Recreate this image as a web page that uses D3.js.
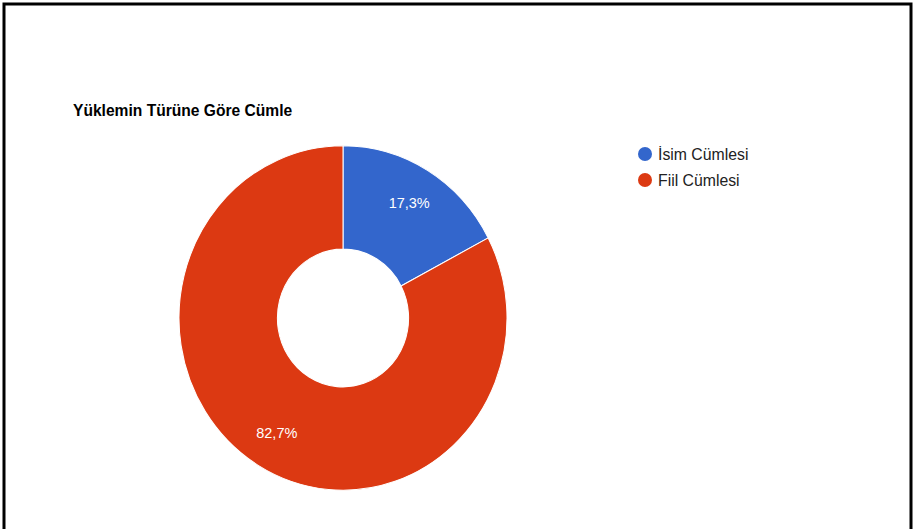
<!DOCTYPE html>
<html>
<head>
<meta charset="utf-8">
<script src="https://cdn.jsdelivr.net/npm/d3@7"></script>
<style>
	body { margin: 0; background: #fff; }
	svg { display: block; font-family: "Liberation Sans", Arial, sans-serif; }
</style>
</head>
<body>
<svg id="chart" width="916" height="529"></svg>
<script>
'use strict';

const TITLE = "Yüklemin Türüne Göre Cümle";
const categories = ["İsim Cümlesi", "Fiil Cümlesi"];
const values = [17.3, 82.7];
const labels = ["17,3%", "82,7%"];
const colors = ["#3366cc", "#dc3912"];

const svg = d3.select("#chart");

// frame
svg.append("path")
	.attr("d", "M4,529 V4 H911 V529")
	.attr("fill", "none")
	.attr("stroke", "#000")
	.attr("stroke-width", 3);

svg.append("text")
	.attr("x", 73)
	.attr("y", 116)
	.attr("font-size", 15.6)
	.attr("font-weight", "bold")
	.attr("fill", "#000")
	.text(TITLE);

const R = 164;
const cx = 343, cy = 318;

const pie = d3.pie().sort(null).value(d => d);
const arc = d3.arc().innerRadius(R * 0.4).outerRadius(R);
const labelArc = d3.arc().innerRadius(128).outerRadius(128);

const g = svg.append("g")
	.attr("transform", `translate(${cx},${cy}) scale(1,1.05)`);

const arcs = pie(values);

g.selectAll("path")
	.data(arcs)
	.enter().append("path")
		.attr("d", arc)
		.attr("fill", (d, i) => colors[i])
		.attr("stroke", "#fff")
		.attr("stroke-width", 1);

// labels drawn outside the scaled group so text isn't stretched
svg.selectAll("text.slice")
	.data(arcs)
	.enter().append("text")
		.attr("class", "slice")
		.attr("x", d => cx + labelArc.centroid(d)[0])
		.attr("y", d => cy + labelArc.centroid(d)[1] * 1.05 + 5)
		.attr("text-anchor", "middle")
		.attr("font-size", 14.5)
		.attr("fill", "#fff")
		.text((d, i) => labels[i]);

const legend = svg.append("g").attr("transform", "translate(645,154)");
const item = legend.selectAll("g")
	.data(categories)
	.enter().append("g")
		.attr("transform", (d, i) => `translate(0,${i * 26})`);
item.append("circle")
	.attr("r", 7)
	.attr("fill", (d, i) => colors[i]);
item.append("text")
	.attr("x", 13)
	.attr("y", 5.5)
	.attr("font-size", 15.8)
	.attr("fill", "#222")
	.text(d => d);
</script>
</body>
</html>
